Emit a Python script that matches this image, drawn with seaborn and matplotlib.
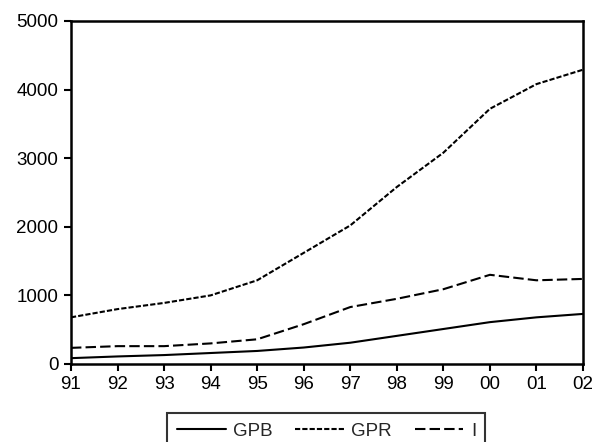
import seaborn as sns
import matplotlib.pyplot as plt
import pandas as pd

# values
years = list(range(1991, 2003))
year_labels = ['91', '92', '93', '94', '95', '96', '97', '98', '99', '00', '01', '02']
gpb = [85, 110, 130, 160, 190, 240, 310, 410, 510, 610, 680, 730]
gpr = [680, 800, 890, 1000, 1220, 1620, 2020, 2580, 3080, 3720, 4080, 4290]
inv = [235, 260, 260, 300, 360, 580, 830, 950, 1090, 1300, 1220, 1240]

df = pd.DataFrame({
    'year': years * 3,
    'value': gpb + gpr + inv,
    'series': ['GPB'] * 12 + ['GPR'] * 12 + ['I'] * 12,
})

sns.set_style("ticks")
plt.rcParams['font.family'] = ['Liberation Sans', 'DejaVu Sans']

fig = plt.figure(figsize=(5.96, 4.42), dpi=100)
ax = fig.add_axes([0.1191, 0.1765, 0.8591, 0.776])

sns.lineplot(data=df, x='year', y='value', hue='series', style='series',
             palette={'GPB': 'black', 'GPR': 'black', 'I': 'black'},
             dashes={'GPB': '', 'GPR': (2.5, 1), 'I': (5, 2)},
             linewidth=1.5, ax=ax)

ax.set_xlim(1991, 2002)
ax.set_ylim(0, 5000)
ax.set_xticks(years)
ax.set_xticklabels(year_labels)
ax.set_yticks([0, 1000, 2000, 3000, 4000, 5000])
ax.set_xlabel('')
ax.set_ylabel('')
ax.tick_params(direction='out', length=5, width=1.5, labelsize=13.5,
               colors='black', pad=4)
for s in ax.spines.values():
    s.set_linewidth(1.8)
    s.set_color('black')

handles, labels = ax.get_legend_handles_labels()
ax.get_legend().remove()
leg = fig.legend(handles, labels, loc='upper center', ncol=3,
                 bbox_to_anchor=(326.5 / 596, 1 - 413 / 442),
                 borderaxespad=0,
                 frameon=True, fancybox=False, edgecolor='black',
                 fontsize=13.5, handlelength=2.6, columnspacing=1.2,
                 handletextpad=0.4, borderpad=0.5)
leg.get_frame().set_linewidth(1.5)

fig.savefig('out.png', dpi=100)
